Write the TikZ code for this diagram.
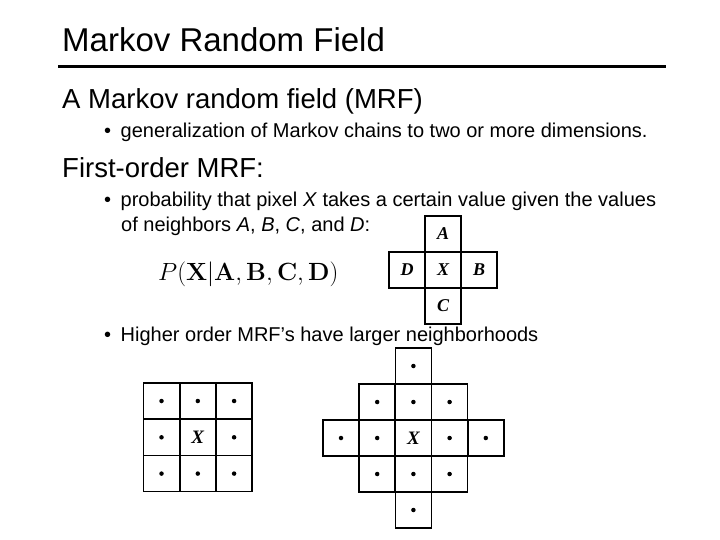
\documentclass[tikz,border=0pt]{standalone}
\usepackage{amsmath}
\usepackage[no-math]{fontspec}
\setmainfont{Liberation Sans}
\newfontfamily\tms{Liberation Serif}
\begin{document}
\begin{tikzpicture}[x=1pt,y=-1pt,
 cell/.style={draw,line width=1.6pt,minimum size=36pt,inner sep=0pt,font=\tms\bfseries\itshape\fontsize{18}{18}\selectfont},
 txt/.style={anchor=base west,inner sep=0pt},
 dotc/.style={fill,circle,inner sep=0pt,minimum size=4.5pt}]
\useasboundingbox (0,0) rectangle (720,540);
\node[txt,font=\fontsize{33}{33}\selectfont] (title) at (62,52) {Markov Random Field};
\draw[line width=3pt] (58,66.5) coordinate (l1) -- (666,66.5) coordinate (l2);
\node[txt,font=\fontsize{27.5}{27.5}\selectfont] (t1) at (62,109) {A Markov random field (MRF)};
\node[txt,font=\fontsize{20}{20}\selectfont] (t2) at (104,138) {•\hspace{9.5pt}generalization of Markov chains to two or more dimensions.};
\node[txt,font=\fontsize{27.5}{27.5}\selectfont] (t3) at (62,178) {First-order MRF:};
\node[txt,font=\fontsize{20}{20}\selectfont] (t4) at (104,207) {•\hspace{9.5pt}probability that pixel \textit{X} takes a certain value given the values};
\node[txt,font=\fontsize{20}{20}\selectfont] (t5) at (121,232) {of neighbors \textit{A}, \textit{B}, \textit{C}, and \textit{D}:};
\node[txt,font=\fontsize{24}{24}\selectfont] (f) at (158,280) {$P(\mathbf{X}|\mathbf{A},\mathbf{B},\mathbf{C},\mathbf{D})$};
\node[txt,font=\fontsize{20}{20}\selectfont] (t6) at (104,341) {•\hspace{9.5pt}Higher order MRF’s have larger neighborhoods};
% first-order cross
\node[cell] (cx) at (443,270) {X};
\node[cell] (ca) at (443,234) {A};
\node[cell] (cc) at (443,306) {C};
\node[cell] (cd) at (407,270) {D};
\node[cell] (cb) at (479,270) {B};
% left grid
\foreach \i in {0,1,2}{\foreach \j in {0,1,2}{
  \node[cell] (g\i\j) at (161.5+36.3*\i,401+36.3*\j) {};
}}
\foreach \i/\j in {0/0,1/0,2/0,0/1,2/1,0/2,1/2,2/2}{\node[dotc] (gd\i\j) at (g\i\j) {};}
\node[font=\tms\bfseries\itshape\fontsize{19}{19}\selectfont] (gx) at (g11) {X};
% right cross
\foreach \i/\j in {2/0,1/1,2/1,3/1,0/2,1/2,2/2,3/2,4/2,1/3,2/3,3/3,2/4}{
  \node[cell] (r\i\j) at (341+36.2*\i,366+36*\j) {};
}
\foreach \i/\j in {2/0,1/1,2/1,3/1,0/2,1/2,3/2,4/2,1/3,2/3,3/3,2/4}{\node[dotc] (rd\i\j) at (r\i\j) {};}
\node[font=\tms\bfseries\itshape\fontsize{19}{19}\selectfont] (rx) at (r22) {X};
\end{tikzpicture}
\end{document}
